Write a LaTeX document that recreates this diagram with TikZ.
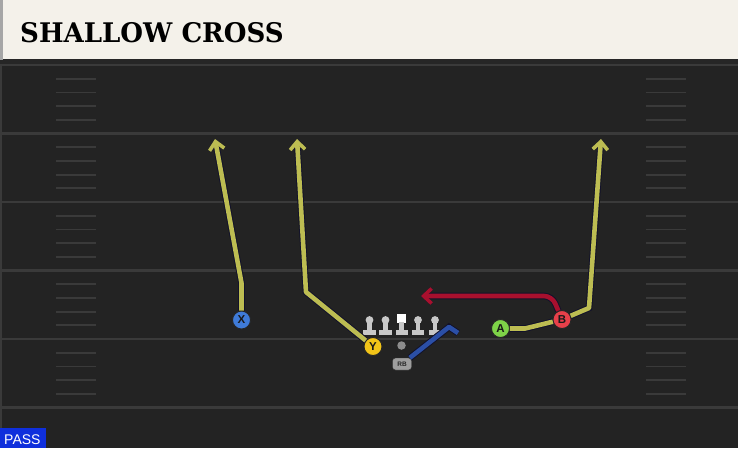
\documentclass[tikz,border=0pt]{standalone}
\usepackage{fontspec}
\setmainfont{Liberation Sans}
\newfontfamily\titlefont{DejaVu Serif}
\usepackage{xcolor}
\usetikzlibrary{arrows.meta,positioning}
\definecolor{field}{HTML}{232323}
\definecolor{yard}{HTML}{3A3A3A}
\definecolor{cream}{HTML}{F4F1EA}
\definecolor{outl}{HTML}{12122A}
\definecolor{rtyellow}{HTML}{BDBD52}
\definecolor{rtred}{HTML}{A8102E}
\definecolor{rtblue}{HTML}{2B4FA6}
\definecolor{xblue}{HTML}{3F7BD8}
\definecolor{yyellow}{HTML}{F2C418}
\definecolor{agreen}{HTML}{7ED348}
\definecolor{bred}{HTML}{E8404A}
\definecolor{lmgray}{HTML}{C8C8C8}
\definecolor{passblue}{HTML}{0F2FDC}
\tikzset{plr/.style={inner sep=0pt, minimum size=18pt, circle, draw=black!85, line width=0.9pt, text=black!90, font=\bfseries\fontsize{11.5}{11.5}\selectfont}}
\tikzset{route/.style={line width=4.6pt, line join=round, preaction={draw=outl, line width=6.6pt}}}
\tikzset{run/.style={-{Straight Barb[length=8pt, width=15pt, line width=3.6pt]}}}
\tikzset{yardline/.style={draw=yard, line width=2.2pt}}
\tikzset{hash/.style={draw=yard, line width=1.8pt}}

\begin{document}
\begin{tikzpicture}[x=1pt, y=-1pt]
    \useasboundingbox (0,0) rectangle (738,448);
    \fill[field] (0,0) rectangle (738,448);
    \fill[yard] (0,60) rectangle (2,448);

    \foreach \yl in {65,133.5,202,270.5,339,407.5}
        \draw[yardline] (0,\yl) -- (738,\yl);
    \foreach \yl in {65,133.5,202,270.5,339}
        \foreach \k in {1,...,4} {
            \draw[hash] (56,{\yl+13.7*\k}) -- (96,{\yl+13.7*\k});
            \draw[hash] (646,{\yl+13.7*\k}) -- (686,{\yl+13.7*\k});
        }

    \fill[black!85] (0,59) rectangle (738,64);
    \fill[cream] (3,0) rectangle (738,59);
    \fill[black!35] (0,0) rectangle (3,60);
    \node[anchor=base west, inner sep=0pt, font=\titlefont\bfseries\fontsize{27}{27}\selectfont] (title) at (20,42) {\scalebox{0.965}[1]{SHALLOW CROSS}};

    \node[plr, fill=xblue] (x) at (241.5,320) {X};
    \node[plr, fill=yyellow] (y) at (373,346.5) {Y};
    \node[plr, fill=agreen] (a) at (500.5,328.5) {A};
    \node[plr, fill=bred] (b) at (562,319.5) {B};
    \node[circle, fill=black!45, minimum size=8.5pt, inner sep=0pt] (qb) at (401.5,345.5) {};
    \node[draw=black!80, fill=black!38, rounded corners=3pt, minimum width=19pt, minimum height=12pt, inner sep=0pt, text=black!85, font=\bfseries\fontsize{6.5}{6.5}\selectfont] (rb) at (402,364) {RB};

    \foreach \lx in {369.5,385.5,418,435} {
        \fill[lmgray] (\lx,320) circle (3.9);
        \fill[lmgray] (\lx-2.4,322) rectangle (\lx+2.4,330);
        \fill[lmgray] (\lx-6.2,329.5) rectangle (\lx+6.2,335);
    }
    \fill[white] (397,314) rectangle (405.5,323);
    \fill[lmgray] (399,322) rectangle (403.5,330);
    \fill[lmgray] (395.5,329.5) rectangle (407.5,335);

    \coordinate (xbreak) at (241.5,283);
    \coordinate (xend) at (215,139);
    \coordinate (ybreak) at (306,292);
    \coordinate (yend) at (297,139);
    \coordinate (acut) at (525,328.5);
    \coordinate (abreak) at (589,308);
    \coordinate (aend) at (601,139);
    \coordinate (bturn) at (552,296);
    \coordinate (bend) at (421,296);
    \coordinate (rbbreak) at (449,327);
    \coordinate (rbend) at (458,333);

    \draw[route, rtyellow, run] (x) -- (xbreak) -- (xend);
    \draw[route, rtyellow, run] (y) -- (ybreak) -- (yend);
    \draw[route, rtyellow, run] (a) -- (acut) -- (b) -- (abreak) -- (aend);
    \draw[route, rtred, run, rounded corners=8pt] (b) -- (bturn) -- (bend);
    \draw[route, rtblue] (rb) -- (rbbreak) -- (rbend);

    \fill[passblue] (0,428) rectangle (46,448);
    \node[anchor=base west, inner sep=0pt, text=white, font=\fontsize{14}{14}\selectfont] (pass) at (4,444) {PASS};
\end{tikzpicture}
\end{document}
